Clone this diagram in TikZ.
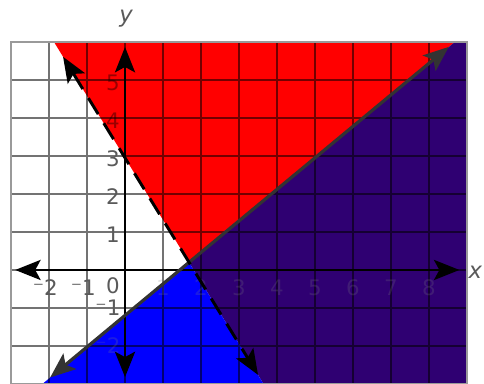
\documentclass[tikz,border=0pt]{standalone}
\usepackage{fontspec}
\setmainfont{DejaVu Sans}
\usetikzlibrary{arrows.meta}
\definecolor{regred}{HTML}{FF0000}
\definecolor{regblue}{HTML}{0000FF}
\definecolor{regpurple}{HTML}{2F0072}
\definecolor{ticklab}{HTML}{5A5A5A}
\definecolor{framegray}{HTML}{9A9A9A}
\begin{document}
\begin{tikzpicture}[x=1cm,y=1cm,font=\fontsize{16}{18}\selectfont,
  >={Stealth[length=19pt,width=15pt,inset=4pt]},
  lab/.style={text=ticklab,inner sep=0pt},
  labred/.style={text=black,text opacity=0.4,inner sep=0pt},
  labdim/.style={text=gray,text opacity=0.22,inner sep=0pt}]
  \useasboundingbox (-3.29,-3) rectangle (9.447,7.105);
  % boundary points
  \coordinate (solidlo) at (-1.97,-2.83);
  \coordinate (solidhi) at (8.52,5.87);
  \coordinate (dashhi) at (-1.63,5.61);
  \coordinate (dashlo) at (3.5,-2.76);
  \coordinate (meet) at (1.685,0.2);
  % shaded regions
  \fill[regred] (-1.869,6) -- (8.68,6) -- (meet) -- cycle;
  \fill[regpurple] (meet) -- (8.68,6) -- (9,6) -- (9,-3) -- (3.646,-3) -- cycle;
  \fill[regblue] (meet) -- (3.646,-3) -- (-2.175,-3) -- cycle;
  % grid
  \draw[black,opacity=0.55,line width=1.6pt] (-3,-3) grid (9,6);
  \draw[framegray,line width=2.2pt] (-3,-3) rectangle (9,6);
  % tick labels
  \foreach \y in {1,2,3}
    \node[lab] (ylab\y) at (-0.32,\y-0.08) {\y};
  \foreach \y in {4,5}
    \node[labred] (ylab\y) at (-0.32,\y-0.08) {\y};
  \node[lab] (ylabm1) at (-0.45,-1.0) {⁻1};
  \node[labdim] (ylabm2) at (-0.45,-2.0) {⁻2};
  \node[lab] (xlabm2) at (-2.1,-0.47) {⁻2};
  \node[lab] (xlabm1) at (-1.1,-0.47) {⁻1};
  \node[lab] (orig) at (-0.32,-0.42) {0};
  \foreach \x in {1,...,8}
    \node[labdim] (xlab\x) at (\x,-0.47) {\x};
  % axes
  \coordinate (xl) at (-2.89,0);
  \coordinate (xr) at (8.8,0);
  \coordinate (yb) at (0,-2.82);
  \coordinate (yt) at (0,5.87);
  \draw[<->,line width=2.2pt] (xl) -- (xr);
  \draw[<->,line width=2.2pt] (yb) -- (yt);
  \node[text=ticklab,font=\fontsize{17}{19}\selectfont\itshape] (xname) at (9.22,-0.05) {x};
  \node[text=ticklab,font=\fontsize{17}{19}\selectfont\itshape] (yname) at (0.03,6.62) {y};
  % boundary lines
  \draw[<->,line width=2.4pt,black!80] (solidlo) -- (solidhi);
  \draw[<->,line width=2.2pt,dash pattern=on 14pt off 8pt] (dashhi) -- (dashlo);
\end{tikzpicture}
\end{document}
